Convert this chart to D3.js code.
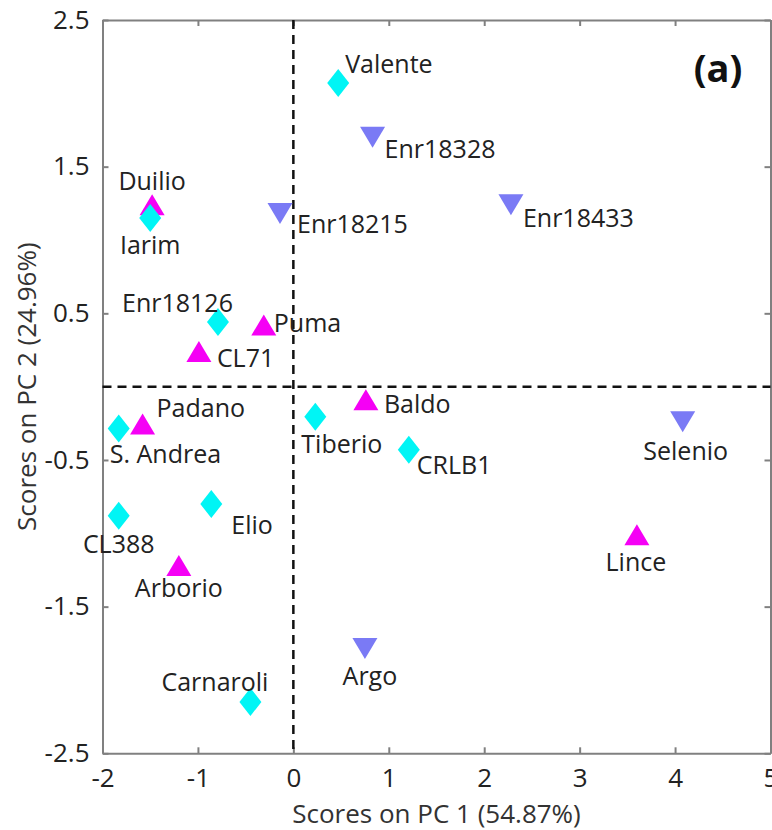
<!DOCTYPE html>
<html lang="en">

<head>
	<meta charset="utf-8">
	<title>PCA scores (a)</title>
	<script src="https://d3js.org/d3.v7.min.js"></script>
	<style type="text/css">
		body {
			margin: 0;
			background: #fff;
		}
		.axis text {
			font-family: "Open Sans", sans-serif;
			font-size: 26px;
			fill: #222;
		}
		.axis path,
		.axis line {
			stroke: #808080;
			stroke-width: 2px;
		}
	</style>
</head>

<body>
	<script type="text/javascript">

		//Data
		let names = ["Valente", "Enr18328", "Enr18215", "Enr18433", "Duilio", "Iarim", "Enr18126", "Puma", "CL71",
			"Padano", "S. Andrea", "Elio", "CL388", "Arborio", "Carnaroli", "Argo", "Tiberio", "Baldo", "CRLB1",
			"Selenio", "Lince"];
		let pc1 = [0.47, 0.83, -0.14, 2.28, -1.48, -1.50, -0.79, -0.31, -0.99,
			-1.58, -1.83, -0.86, -1.83, -1.20, -0.45, 0.75, 0.23, 0.76, 1.21,
			4.08, 3.60];
		let pc2 = [2.07, 1.70, 1.18, 1.24, 1.24, 1.15, 0.44, 0.42, 0.24,
			-0.255, -0.285, -0.80, -0.88, -1.22, -2.15, -1.785, -0.205, -0.09, -0.43,
			-0.24, -1.01];
		let group = ["A", "C", "C", "C", "B", "A", "A", "B", "B",
			"B", "A", "A", "A", "B", "A", "C", "A", "B", "A",
			"C", "B"];

		let xTicks = [-2, -1, 0, 1, 2, 3, 4, 5];
		let yTicks = [2.5, 1.5, 0.5, -0.5, -1.5, -2.5];

		//Width and height
		let w = 772;
		let h = 830;
		let margin = { top: 20, right: 1.5, bottom: 76.7, left: 102.5 };

		//where each label sits next to its marker: [anchor, dx, dy]
		let labelPlace = {
			"Valente": ["start", 7, -10],
			"Enr18328": ["start", 12, 21],
			"Enr18215": ["start", 17, 19],
			"Enr18433": ["start", 12, 22],
			"Duilio": ["middle", 0, -15],
			"Iarim": ["middle", 0, 36],
			"Enr18126": ["end", 15, -10],
			"Puma": ["start", 10, 7],
			"CL71": ["start", 18, 16],
			"Padano": ["start", 14, -7],
			"S. Andrea": ["start", -9, 35],
			"Elio": ["start", 20, 30],
			"CL388": ["middle", 0, 37],
			"Arborio": ["middle", 0, 31],
			"Carnaroli": ["end", 18, -11],
			"Argo": ["middle", 5, 37],
			"Tiberio": ["start", -14, 36],
			"Baldo": ["start", 18, 13],
			"CRLB1": ["start", 8, 24],
			"Selenio": ["middle", 3, 38],
			"Lince": ["middle", -1, 36]
		};

		let colors = { A: "#00f5f5", B: "#f500f5", C: "#7a7af5" };

		//diamond and triangles, sized like the original markers
		let shape = function (g) {
			if (g === "A") return "M0,-14L11,0L0,14L-11,0Z";
			if (g === "B") return "M0,-10.5L12.5,10.5L-12.5,10.5Z";
			return "M-12.5,-10.5L12.5,-10.5L0,10.5Z";
		};

		let points = names.map(function (n, i) {
			return { name: n, x: pc1[i], y: pc2[i], g: group[i] };
		});

		// plain hyphen for negative numbers, like the original
		let loc = d3.formatLocale({ decimal: ".", thousands: ",", grouping: [3], currency: ["", ""], minus: "-" });

		let xScale = d3.scaleLinear()
			.domain([-2, 5])
			.range([margin.left, w - margin.right]);

		let yScale = d3.scaleLinear()
			.domain([-2.5, 2.5])
			.range([h - margin.bottom, margin.top]);

		//Create SVG element
		let svg = d3.select("body")
			.append("svg")
			.attr("width", w)
			.attr("height", h);

		// axes (ticks point inward, box on all four sides)
		svg.append("g")
			.attr("class", "axis")
			.attr("transform", "translate(0," + yScale(-2.5) + ")")
			.call(d3.axisBottom(xScale).tickValues(xTicks).tickSizeInner(-6).tickSizeOuter(0).tickPadding(15)
				.tickFormat(loc.format("d")));

		svg.append("g")
			.attr("class", "axis")
			.attr("transform", "translate(0," + yScale(2.5) + ")")
			.call(d3.axisTop(xScale).tickValues(xTicks).tickSizeInner(-6).tickSizeOuter(0).tickFormat(""));

		svg.append("g")
			.attr("class", "axis")
			.attr("transform", "translate(" + xScale(-2) + ",0)")
			.call(d3.axisLeft(yScale).tickValues(yTicks).tickSizeInner(-6).tickSizeOuter(0).tickPadding(13)
				.tickFormat(loc.format(".1f")));

		svg.append("g")
			.attr("class", "axis")
			.attr("transform", "translate(" + xScale(5) + ",0)")
			.call(d3.axisRight(yScale).tickValues(yTicks).tickSizeInner(-6).tickSizeOuter(0).tickFormat(""));

		svg.selectAll(".axis text").attr("fill", "#222");

		// dashed zero lines
		svg.append("line")
			.attr("x1", xScale(0)).attr("x2", xScale(0))
			.attr("y1", yScale(2.5)).attr("y2", yScale(-2.5))
			.attr("stroke", "#111").attr("stroke-width", 2.5).attr("stroke-dasharray", "9,6");

		svg.append("line")
			.attr("x1", xScale(-2)).attr("x2", xScale(5))
			.attr("y1", yScale(0)).attr("y2", yScale(0))
			.attr("stroke", "#111").attr("stroke-width", 2.5).attr("stroke-dasharray", "9,6");

		//markers: triangles first, diamonds on top
		let order = { B: 0, C: 1, A: 2 };
		let sorted = points.slice().sort(function (a, b) { return order[a.g] - order[b.g]; });

		svg.selectAll("path.mark")
			.data(sorted)
			.enter()
			.append("path")
			.attr("class", "mark")
			.attr("d", function (d) { return shape(d.g); })
			.attr("transform", function (d) {
				return "translate(" + xScale(d.x) + "," + yScale(d.y) + ")";
			})
			.attr("fill", function (d) { return colors[d.g]; });

		//labels
		svg.selectAll("text.lab")
			.data(points)
			.enter()
			.append("text")
			.attr("class", "lab")
			.text(function (d) { return d.name; })
			.attr("text-anchor", function (d) { return labelPlace[d.name][0]; })
			.attr("x", function (d) { return xScale(d.x) + labelPlace[d.name][1]; })
			.attr("y", function (d) { return yScale(d.y) + labelPlace[d.name][2]; })
			.attr("font-family", "'Open Sans', sans-serif")
			.attr("font-size", "25px")
			.attr("fill", "#222");

		// axis titles
		svg.append("text")
			.text("Scores on PC 1 (54.87%)")
			.attr("text-anchor", "middle")
			.attr("x", (xScale(-2) + xScale(5)) / 2)
			.attr("y", 823)
			.attr("font-family", "'Open Sans', sans-serif")
			.attr("font-size", "26px")
			.attr("fill", "#333");

		svg.append("text")
			.text("Scores on PC 2 (24.96%)")
			.attr("text-anchor", "middle")
			.attr("transform", "translate(36," + (yScale(2.5) + yScale(-2.5)) / 2 + ") rotate(-90)")
			.attr("font-family", "'Open Sans', sans-serif")
			.attr("font-size", "26px")
			.attr("fill", "#333");

		// panel letter
		svg.append("text")
			.text("(a)")
			.attr("text-anchor", "middle")
			.attr("x", 718)
			.attr("y", 82)
			.attr("font-family", "'Open Sans', sans-serif")
			.attr("font-weight", "bold")
			.attr("font-size", "38px")
			.attr("fill", "#111");

	</script>
</body>

</html>
